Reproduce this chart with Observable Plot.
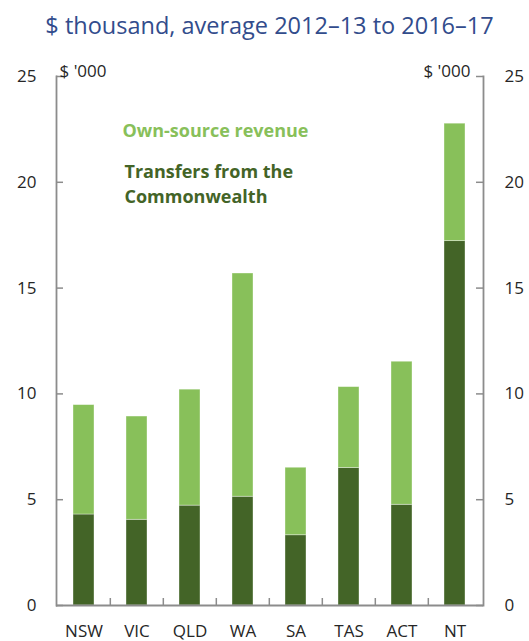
<!DOCTYPE html>
<html>
<head>
<meta charset="utf-8">
<script src="https://cdn.jsdelivr.net/npm/d3@7"></script>
<script src="https://cdn.jsdelivr.net/npm/@observablehq/plot@0.6"></script>
<style>
  body { margin: 0; background: #fff; font-family: "Open Sans", Lato, sans-serif; }
  #title { height: 45px; line-height: 51px; font-size: 23.5px; color: #324C8C; text-align: center; padding-left: 10px; box-sizing: border-box; white-space: nowrap; overflow: hidden; }
  #chart svg { display: block; }
</style>
</head>
<body>
<div id="title">$ thousand, average 2012–13 to 2016–17</div>
<div id="chart"></div>
<script>
const states = ["NSW", "VIC", "QLD", "WA", "SA", "TAS", "ACT", "NT"];
const transfers = [4.30, 4.05, 4.72, 5.14, 3.32, 6.50, 4.76, 17.22];
const ownSource = [5.17, 4.88, 5.48, 10.55, 3.19, 3.82, 6.76, 5.55];
const yTicks = [0, 5, 10, 15, 20, 25];
const seriesNames = ["Transfers from the Commonwealth", "Own-source revenue"];
const seriesColors = ["#436427", "#88C05A"];

const rows = [];
states.forEach((s, i) => rows.push({state: s, series: seriesNames[0], value: transfers[i]}));
states.forEach((s, i) => rows.push({state: s, series: seriesNames[1], value: ownSource[i]}));

const W = 529, H = 596;
const mL = 56, mR = 46, mT = 31, mB = 36;
const plotW = W - mL - mR, plotH = H - mT - mB;
const slot = plotW / states.length;
const tickLen = 7;
const axisColor = "#8C8C8C";
const textColor = "#262626";
const font = "'Open Sans', Lato, sans-serif";

const chart = Plot.plot({
  width: W, height: H,
  marginLeft: mL, marginRight: mR, marginTop: mT, marginBottom: mB,
  style: {fontFamily: font, fontSize: "17px", color: textColor, background: "#fff"},
  x: {domain: states, paddingInner: 0.6, paddingOuter: 0.3, label: null},
  y: {domain: [0, 25], ticks: yTicks, label: null},
  color: {domain: seriesNames, range: seriesColors},
  marks: [
    Plot.barY(rows, {x: "state", y: "value", fill: "series", stroke: "#ffffff", strokeOpacity: 0.45, strokeWidth: 0.8}),
    Plot.frame({anchor: "left", stroke: axisColor, strokeWidth: 1.8}),
    Plot.frame({anchor: "right", stroke: axisColor, strokeWidth: 1.8}),
    Plot.ruleY([0], {stroke: axisColor, strokeWidth: 1.8}),
    Plot.ruleY(yTicks, {stroke: axisColor, strokeWidth: 1.5, insetRight: plotW - tickLen}),
    Plot.ruleY(yTicks, {stroke: axisColor, strokeWidth: 1.5, insetLeft: plotW - tickLen}),
    Plot.ruleX(states.slice(1), {x: d => d, dx: -slot / 2, stroke: axisColor, strokeWidth: 1.5, insetTop: plotH - tickLen}),
    Plot.axisY({anchor: "left", ticks: yTicks, tickSize: 0, tickPadding: 20, fontSize: 17, fill: textColor, label: null}),
    Plot.axisY({anchor: "right", ticks: yTicks, tickSize: 0, tickPadding: 21, fontSize: 17, fill: textColor, label: null}),
    Plot.axisX({anchor: "bottom", tickSize: 0, tickPadding: 19, fontSize: 17, fill: textColor, label: null}),
    Plot.text(["$ '000"], {frameAnchor: "top-left", textAnchor: "start", dx: 3, dy: -12, fontSize: 17, fill: textColor}),
    Plot.text(["$ '000"], {frameAnchor: "top-right", textAnchor: "end", dx: -13, dy: -12, fontSize: 17, fill: textColor}),
    Plot.text([seriesNames[1]], {frameAnchor: "top-left", textAnchor: "start", lineAnchor: "middle", dx: 66, dy: 55, fontSize: 18, fontWeight: "bold", fill: seriesColors[1]}),
    Plot.text(["Transfers from the\nCommonwealth"], {frameAnchor: "top-left", textAnchor: "start", lineAnchor: "middle", lineHeight: 1.4, dx: 68, dy: 106, fontSize: 18, fontWeight: "bold", fill: seriesColors[0]})
  ]
});
document.getElementById("chart").appendChild(chart);
</script>
</body>
</html>
